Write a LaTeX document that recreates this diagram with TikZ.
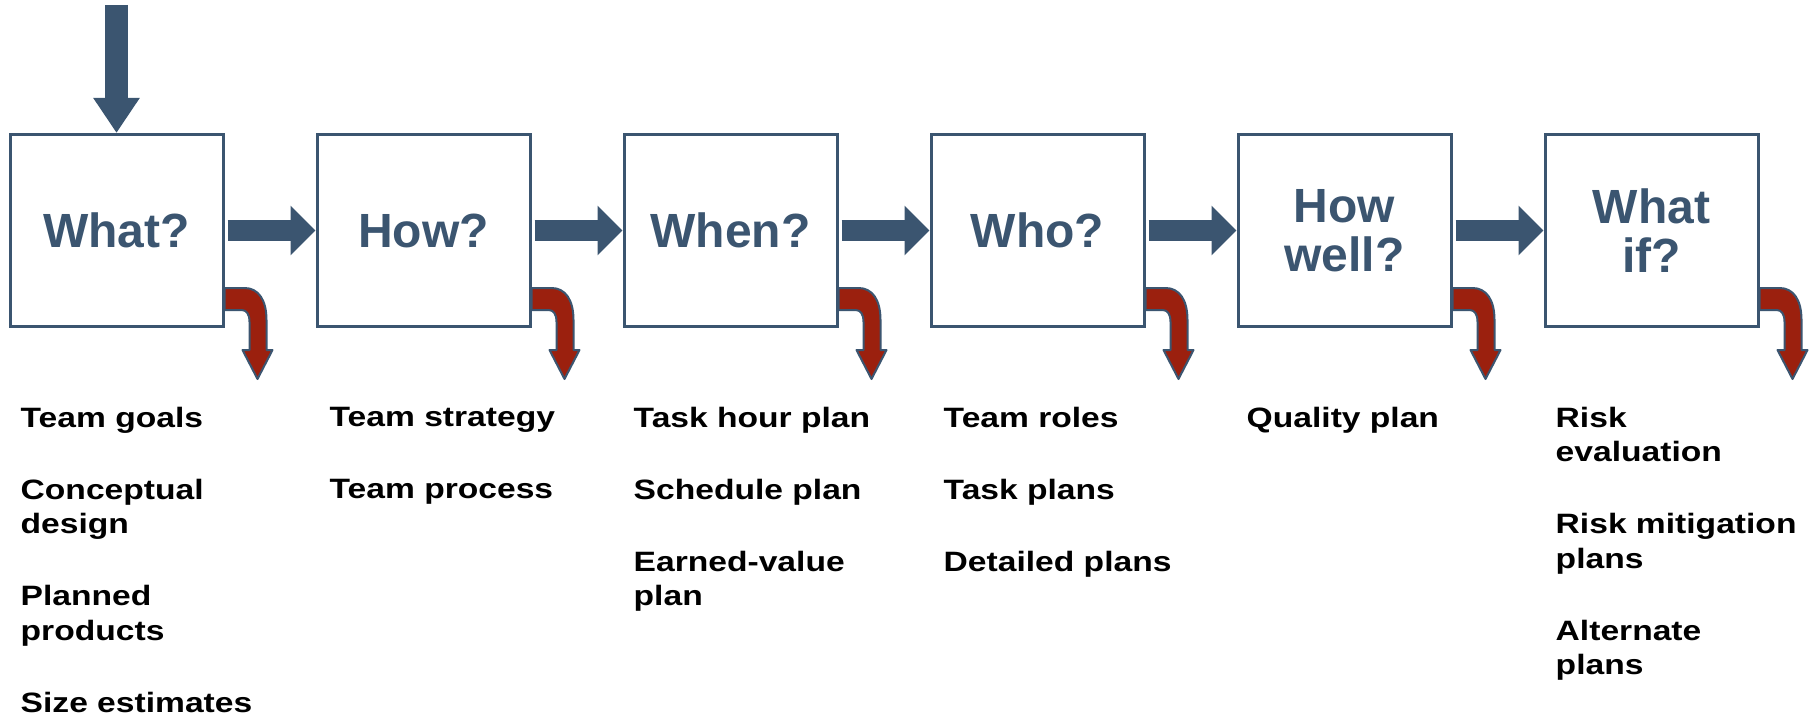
\documentclass[tikz,border=0pt]{standalone}
\usepackage{fontspec}
\setmainfont{Liberation Sans}
\newfontfamily\listfont[FakeStretch=1.2]{Liberation Sans}
\usepackage{tikz}
\usetikzlibrary{shapes, arrows, arrows.meta}
\usetikzlibrary{positioning}

\definecolor{slate}{RGB}{59,85,112}
\definecolor{rust}{RGB}{155,32,14}

\tikzset{
  stage/.style={draw=slate, line width=3pt, minimum width=213pt, minimum height=192pt,
    align=center, text=slate, font=\fontsize{48}{49}\selectfont\bfseries},
  flow/.style={slate, line width=21pt, -{Triangle[width=48pt,length=25pt]}},
  feed/.style={slate, line width=23pt, -{Triangle[width=44pt,length=35pt]}},
  spill/.style={draw=slate, fill=rust, line width=2pt, line join=round},
  outputs/.style={anchor=north west, align=left, inner sep=0pt,
    font=\listfont\bfseries\fontsize{28}{34.5}\selectfont}
}

% bent red arrow leaving the lower right corner of a box
\newcommand{\spillarrow}[1]{%
  \draw[spill, shift={(#1.south east)}] (0,-40) -- (20,-40)
    .. controls (34,-40) and (42,-28) .. (42,-8) -- (42,22) -- (48,22) -- (33,51)
    -- (18,22) -- (25,22) -- (25,-6) .. controls (25,-14) and (22,-18) .. (17,-18)
    -- (0,-18) -- cycle;}

\begin{document}
\begin{tikzpicture}[x=1pt, y=-1pt, node distance=91pt]
\useasboundingbox (0,0) rectangle (1814,719);

\node[stage] (what) at (116.5,230.5) {What?};
\node[stage, right=of what] (how) {How?};
\node[stage, right=of how] (when) {When?};
\node[stage, right=of when] (who) {Who?};
\node[stage, right=of who] (howwell) {How\\well?};
\node[stage, right=of howwell] (whatif) {What\\if?};

\coordinate (entry) at (116.5,5);
\draw[feed] (entry) -- (what.north);

\draw[flow] ([xshift=3pt]what.east) -- (how.west);
\draw[flow] ([xshift=3pt]how.east) -- (when.west);
\draw[flow] ([xshift=3pt]when.east) -- (who.west);
\draw[flow] ([xshift=3pt]who.east) -- (howwell.west);
\draw[flow] ([xshift=3pt]howwell.east) -- (whatif.west);

\spillarrow{what}
\spillarrow{how}
\spillarrow{when}
\spillarrow{who}
\spillarrow{howwell}
\spillarrow{whatif}

\node[outputs] (whatout) at ([xshift=12pt,yshift=-79pt]what.south west)
  {Team goals\\[37.5pt] Conceptual\\design\\[37.5pt] Planned\\products\\[37.5pt] Size estimates};
\node[outputs] (howout) at ([xshift=14pt,yshift=-79pt]how.south west)
  {Team strategy\\[37.5pt] Team process};
\node[outputs] (whenout) at ([xshift=11pt,yshift=-79pt]when.south west)
  {Task hour plan\\[37.5pt] Schedule plan\\[37.5pt] Earned-value\\plan};
\node[outputs] (whoout) at ([xshift=14pt,yshift=-79pt]who.south west)
  {Team roles\\[37.5pt] Task plans\\[37.5pt] Detailed plans};
\node[outputs] (howwellout) at ([xshift=10pt,yshift=-79pt]howwell.south west)
  {Quality plan};
\node[outputs] (whatifout) at ([xshift=12pt,yshift=-79pt]whatif.south west)
  {Risk\\evaluation\\[37.5pt] Risk mitigation\\plans\\[37.5pt] Alternate\\plans};
\end{tikzpicture}
\end{document}
